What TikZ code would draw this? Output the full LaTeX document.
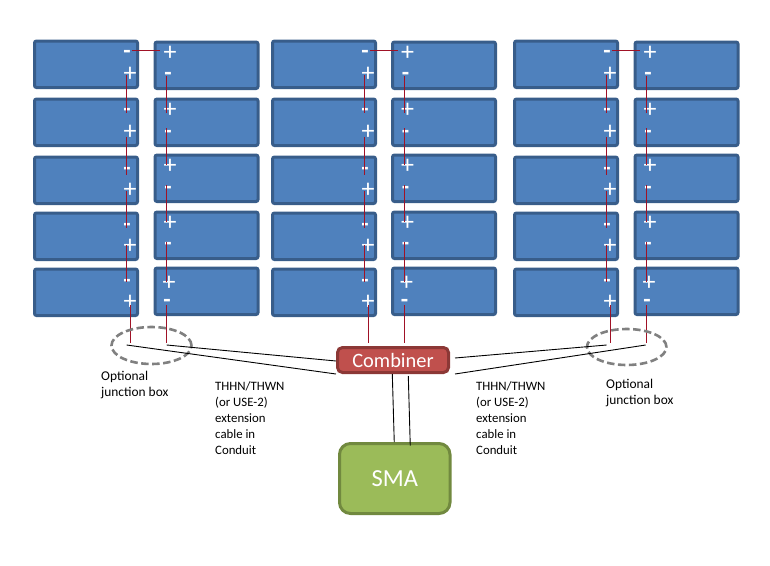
\documentclass[tikz,border=0pt]{standalone}
\usepackage{fontspec}
\setmainfont{Carlito}
\definecolor{panelfill}{HTML}{4F81BD}
\definecolor{paneledge}{HTML}{385D8A}
\definecolor{wirered}{HTML}{A01226}
\definecolor{combfill}{HTML}{C0504D}
\definecolor{combedge}{HTML}{8C3836}
\definecolor{smafill}{HTML}{9BBB59}
\definecolor{smaedge}{HTML}{71893F}
\definecolor{jboxgray}{HTML}{808080}
\tikzset{
  panel/.style={draw=paneledge,fill=panelfill,line width=3pt,rounded corners=2pt,minimum width=103pt,minimum height=46.5pt,inner sep=0pt},
  plussign/.style={text=white,font=\fontsize{26}{26}\selectfont,inner sep=0pt,text height=0pt,text depth=0pt,yshift=-8pt},
  minussign/.style={text=white,font=\fontsize{24}{24}\selectfont\bfseries,inner sep=0pt,text height=0pt,text depth=0pt,yshift=-5.7pt},
  redwire/.style={draw=wirered,line width=1.2pt},
  blackwire/.style={draw=black,line width=0.9pt},
  jbox/.style={draw=jboxgray,dashed,dash pattern=on 7.5pt off 3.5pt,line width=2.6pt,ellipse,inner sep=0pt},
  note/.style={anchor=north west,align=left,inner sep=0pt,text=black,font=\fontsize{13.4}{16}\selectfont},
  cablenote/.style={note,font=\fontsize{12.8}{16}\selectfont},
}
\usetikzlibrary{shapes.geometric}
\begin{document}
\begin{tikzpicture}[x=1pt,y=-1pt]
\useasboundingbox (0,0) rectangle (770,565);
% left column of each group
\foreach \g/\ox in {1/0,2/238,3/480}{
  \foreach \r/\top/\my/\py in {1/39.5/53/73,2/97.5/111/131,3/155.5/170/189,4/211.5/226/245,5/267.5/282/301}{
    \node[panel] (pa\g-\r) at (86+\ox,\top+24.75) {};
    \node[minussign] (ma\g-\r) at (127+\ox,\my) {-};
    \node[plussign] (qa\g-\r) at (130+\ox,\py) {+};
  }
}
% right column of each group
\foreach \g/\ox in {1/0,2/237.5,3/480}{
  \foreach \r/\top/\py/\my/\dx in {1/40.5/52/75/0,2/97.5/109/133/0,3/153.5/165/189/0,4/210.5/222/245/0,5/266.5/282/302/-1}{
    \node[panel] (pb\g-\r) at (206.5+\ox,\top+24.75) {};
    \node[plussign] (qb\g-\r) at (170+\dx+\ox,\py) {+};
    \node[minussign] (mb\g-\r) at (168+\dx+\ox,\my) {-};
  }
}
% series wires
\foreach \g/\ox in {1/0,2/238,3/480}{
  \coordinate (ta\g) at (132+\ox,50.5);
  \coordinate (tb\g) at (160+\ox,50.5);
  \draw[redwire,line width=0.9pt] (ta\g) -- (tb\g);
  \foreach \s/\a/\b in {1/75/113,2/137/175,3/191/228,4/245/282}{
    \coordinate (aa\g-\s) at (126.5+\ox,\a);
    \coordinate (ab\g-\s) at (126.5+\ox,\b);
    \draw[redwire] (aa\g-\s) -- (ab\g-\s);
  }
  \coordinate (aa\g-5) at (130.5+\ox,305);
  \coordinate (ab\g-5) at (130.5+\ox,342.5);
  \draw[redwire] (aa\g-5) -- (ab\g-5);
  \foreach \s/\a/\b in {1/76/113,2/128/165,3/185/222,4/242/282,5/305/342.5}{
    \coordinate (ba\g-\s) at (166.5+\ox,\a);
    \coordinate (bb\g-\s) at (166.5+\ox,\b);
    \draw[redwire] (ba\g-\s) -- (bb\g-\s);
  }
}
% equipment
\node[draw=combedge,fill=combfill,line width=3pt,rounded corners=5pt,minimum width=111pt,minimum height=25pt,inner sep=0pt,text=white,font=\fontsize{20.4}{20.4}\selectfont] (combiner) at (393,360) {Combiner};
\node[draw=smaedge,fill=smafill,line width=3pt,rounded corners=11pt,minimum width=110.5pt,minimum height=70pt,inner sep=0pt,text=white,font=\fontsize{24.5}{24.5}\selectfont] (sma) at (394.75,478.5) {SMA};
% junction boxes
\node[jbox,minimum width=80pt,minimum height=37pt] (jl) at (151.5,345.5) {};
\node[jbox,minimum width=79.5pt,minimum height=36pt] (jr) at (626.7,347) {};
% cable ends in the boxes
\coordinate (l1) at (126.7,345);
\coordinate (l2) at (166.7,345);
\coordinate (r1) at (606.7,345);
\coordinate (r2) at (645.7,345);
\draw[blackwire] (l1) -- (combiner.south west);
\draw[blackwire] (l2) -- ([yshift=-1pt]combiner.west);
\draw[blackwire] (r1) -- ([shift={(5,-2)}]combiner.east);
\draw[blackwire] (r2) -- ([xshift=5pt]combiner.south east);
\draw[blackwire] ([xshift=-0.7pt]combiner.south) -- ([xshift=-0.5pt]sma.north);
\draw[blackwire] ([shift={(15.3,2)}]combiner.south) -- ([shift={(15.5,3.5)}]sma.north);
% labels
\node[note] (nl) at (101,370.5) {Optional\\junction box};
\node[note] (nr) at (606,378.5) {Optional\\junction box};
\node[cablenote] (cl) at (215,381) {THHN/THWN\\(or USE-2)\\extension\\cable in\\Conduit};
\node[cablenote] (cr) at (476,381) {THHN/THWN\\(or USE-2)\\extension\\cable in\\Conduit};
\end{tikzpicture}
\end{document}
